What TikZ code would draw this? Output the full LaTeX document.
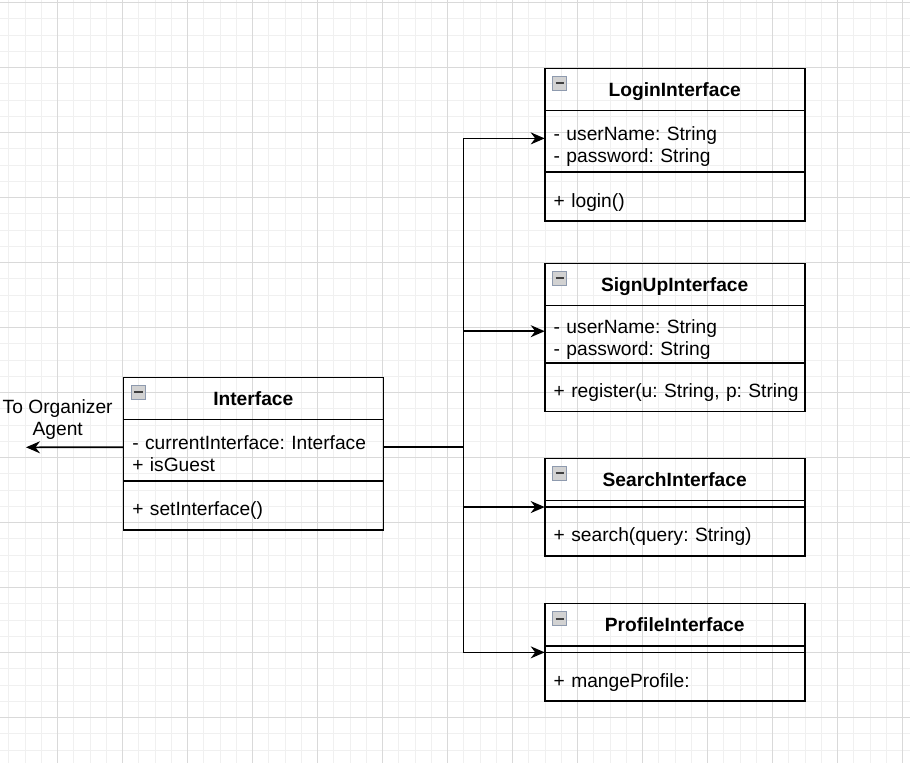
\documentclass[tikz,border=0pt]{standalone}
\usepackage{fontspec}
\setmainfont{Liberation Sans}
\usetikzlibrary{positioning,arrows.meta}
\definecolor{gridminor}{HTML}{F0F0F0}
\definecolor{gridmajor}{HTML}{D9D9D9}
\definecolor{iconedge}{HTML}{8E9AAE}
\definecolor{iconfill}{HTML}{D2D2D2}
\tikzset{
  classhead/.style={draw, line width=1.6pt, minimum width=260pt, minimum height=42.25pt,
    inner sep=0pt, outer sep=0pt, text height=13.2pt, text depth=0pt,
    font=\fontsize{19.2}{22}\selectfont\frenchspacing\bfseries},
  compart/.style={draw, line width=1.6pt, text width=242pt, inner xsep=9pt, inner ysep=0pt,
    outer sep=0pt, align=left, text height=25pt},
  sepbox/.style={draw, line width=1.6pt, minimum width=260pt, minimum height=6.5pt,
    inner sep=0pt, outer sep=0pt},
  link/.style={line width=1.6pt, -{Stealth[length=14pt,width=12pt,inset=4.5pt]}},
  icon/.style={draw=iconedge, fill=iconfill, line width=0.8pt},
  icondash/.style={draw=black!75, line width=2pt},
}
\begin{document}
\begin{tikzpicture}[x=1pt, y=-1pt, font=\fontsize{19.2}{22}\selectfont\frenchspacing]
   \useasboundingbox (0,0) rectangle (910,763);
   % grid
   \foreach \k in {0,...,55} \draw[gridminor, line width=1pt] (8.95+16.25*\k,0) -- ++(0,763);
   \foreach \k in {0,...,46} \draw[gridminor, line width=1pt] (0,2.7+16.25*\k) -- ++(910,0);
   \foreach \k in {0,...,13} \draw[gridmajor, line width=1pt] (57.7+65*\k,0) -- ++(0,763);
   \foreach \k in {0,...,11} \draw[gridmajor, line width=1pt] (0,2.7+65*\k) -- ++(910,0);

   % Interface
   \node[classhead, anchor=north west] (iface) at (123.3,377.3) {Interface};
   \node[compart, minimum height=61.4pt, below=0pt of iface] (ifaceattr)
      {- currentInterface: Interface\\+ isGuest\vphantom{g}};
   \node[compart, minimum height=48.75pt, below=0pt of ifaceattr] (ifacemeth) {+ setInterface()};

   % LoginInterface
   \node[classhead, anchor=north west] (login) at (544.7,68.3) {LoginInterface};
   \node[compart, minimum height=61.7pt, below=0pt of login] (loginattr)
      {- userName: String\\- password: String};
   \node[compart, minimum height=48.75pt, below=0pt of loginattr] (loginmeth) {+ login()};

   % SignUpInterface
   \node[classhead, anchor=north west] (signup) at (544.7,263.3) {SignUpInterface};
   \node[compart, minimum height=57.3pt, below=0pt of signup] (signupattr)
      {- userName: String\\- password: String};
   \node[compart, minimum height=48.75pt, below=0pt of signupattr] (signupmeth)
      {\mbox{+ register(u: String, p: String}};

   % SearchInterface
   \node[classhead, anchor=north west] (search) at (544.7,458.3) {SearchInterface};
   \node[sepbox, below=0pt of search] (searchsep) {};
   \node[compart, minimum height=48.75pt, below=0pt of searchsep] (searchmeth)
      {+ search(query: String)};

   % ProfileInterface
   \node[classhead, anchor=north west] (profile) at (544.7,603.6) {ProfileInterface};
   \node[sepbox, below=0pt of profile] (profilesep) {};
   \node[compart, minimum height=48.75pt, below=0pt of profilesep] (profilemeth)
      {+ mangeProfile:};

   % collapse icons
   \foreach \c in {iface,login,signup,search,profile} {
      \draw[icon] ([xshift=7.6pt,yshift=-7.6pt]\c.north west) rectangle ++(14.4,14.4);
      \draw[icondash] ([xshift=10.8pt,yshift=-15pt]\c.north west) -- ++(8.7,0);
   }

   % connectors
   \coordinate (fork) at (463.3,447.3);
   \coordinate (organizer) at (26,447.3);
   \draw[link] ([yshift=3pt]ifaceattr.west) -- (organizer);
   \node[align=center] (organizerlabel) at (57.7,419.6) {To Organizer\\Agent};
   \draw[link] ([yshift=3pt]ifaceattr.east) -| (fork) |- ([yshift=3pt]loginattr.west);
   \draw[link] ([yshift=3pt]ifaceattr.east) -| (fork) |- ([yshift=3pt]signupattr.west);
   \draw[link] ([yshift=3pt]ifaceattr.east) -| (fork) |- (searchsep.south west);
   \draw[link] ([yshift=3pt]ifaceattr.east) -| (fork) |- (profilesep.south west);
\end{tikzpicture}
\end{document}
